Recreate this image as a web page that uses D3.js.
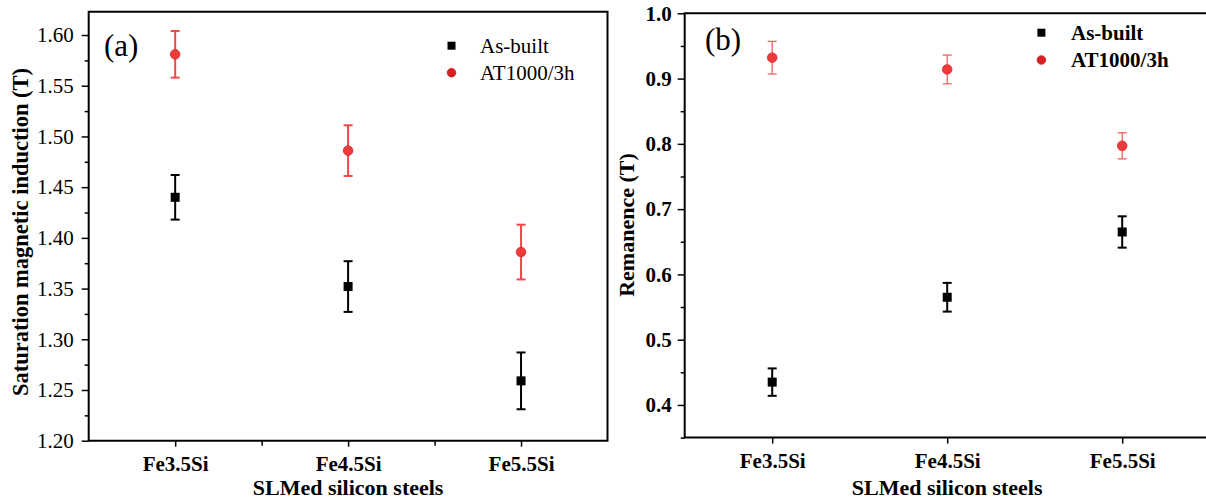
<!DOCTYPE html>
<html>
<head>
<meta charset="utf-8">
<script src="https://cdn.jsdelivr.net/npm/d3@7/dist/d3.min.js"></script>
<style>
  html, body { margin: 0; padding: 0; background: #fff; }
  svg { display: block; }
  text { font-family: "Liberation Serif", "Times New Roman", serif; fill: #000; }
</style>
</head>
<body>
<svg id="chart" width="1206" height="504"></svg>
<script>
// ---------------- data ----------------
const categories = ["Fe3.5Si", "Fe4.5Si", "Fe5.5Si"];
const seriesNames = ["As-built", "AT1000/3h"];

const satAsBuilt       = [1.440, 1.352, 1.259];
const satAsBuiltErr    = [0.022, 0.025, 0.028];
const satAnnealed      = [1.581, 1.486, 1.386];
const satAnnealedErr   = [0.023, 0.025, 0.027];

const remAsBuilt       = [0.435, 0.565, 0.665];
const remAsBuiltErr    = [0.021, 0.022, 0.024];
const remAnnealed      = [0.932, 0.914, 0.797];
const remAnnealedErr   = [0.025, 0.022, 0.020];

const satTicks = [1.20, 1.25, 1.30, 1.35, 1.40, 1.45, 1.50, 1.55, 1.60];
const satMinor = [1.225, 1.275, 1.325, 1.375, 1.425, 1.475, 1.525, 1.575, 1.625];
const remTicks = [0.4, 0.5, 0.6, 0.7, 0.8, 0.9, 1.0];
const remMinor = [0.35, 0.45, 0.55, 0.65, 0.75, 0.85, 0.95];

// ---------------- drawing ----------------
const svg = d3.select("#chart");
const RED = "#ee3a3a";

function drawPanel(o) {
  const g = svg.append("g");
  const x = d3.scaleLinear().domain(o.xDomain).range([o.left, o.right]);
  const y = d3.scaleLinear().domain(o.yDomain).range([o.bottom, o.top]);
  const xPos = i => x(i + 1);

  // y minor ticks
  g.append("g").attr("transform", `translate(${o.left},0)`)
    .call(d3.axisLeft(y).tickValues(o.yMinor.filter(v => v >= o.yDomain[0] && v <= o.yDomain[1] + 1e-9))
      .tickSize(4).tickFormat(""))
    .call(s => s.select(".domain").remove())
    .selectAll("line").attr("stroke", "#000").attr("stroke-width", 1.5);
  // y major ticks
  const ya = g.append("g").attr("transform", `translate(${o.left},0)`)
    .call(d3.axisLeft(y).tickValues(o.yTicks).tickSize(7).tickPadding(o.yPad).tickFormat(d3.format(o.yFmt)))
    .call(s => s.select(".domain").remove());
  ya.selectAll("line").attr("stroke", "#000").attr("stroke-width", 1.5);
  ya.selectAll("text").attr("font-size", 21).attr("font-weight", o.bold ? "bold" : "normal")
    .style("font-family", '"Liberation Serif", serif').attr("fill", "#000");

  // x minor ticks
  if (o.xMinor.length) {
    g.append("g").attr("transform", `translate(0,${o.bottom})`)
      .call(d3.axisBottom(x).tickValues(o.xMinor).tickSize(5).tickFormat(""))
      .call(s => s.select(".domain").remove())
      .selectAll("line").attr("stroke", "#000").attr("stroke-width", 1.5);
  }
  // x major ticks
  const xa = g.append("g").attr("transform", `translate(0,${o.bottom})`)
    .call(d3.axisBottom(x).tickValues(categories.map((c, i) => i + 1)).tickSize(6).tickPadding(9)
      .tickFormat((d) => categories[d - 1]))
    .call(s => s.select(".domain").remove());
  xa.selectAll("line").attr("stroke", "#000").attr("stroke-width", 1.5);
  xa.selectAll("text").attr("font-size", 21).attr("font-weight", "bold")
    .style("font-family", '"Liberation Serif", serif').attr("fill", "#000");

  // frame
  g.append("path")
    .attr("d", `M${o.left},${o.bottom}H${o.frameRight}V${o.top}H${o.left}Z`)
    .attr("fill", "none").attr("stroke", "#000").attr("stroke-width", 2);

  // axis titles
  g.append("text").attr("x", xPos(1)).attr("y", 495).attr("text-anchor", "middle")
    .attr("font-size", 22).attr("font-weight", "bold").text(o.xTitle);
  g.append("text")
    .attr("transform", `translate(${o.yTitleX},${o.yTitleY}) rotate(-90)`)
    .attr("text-anchor", "middle").attr("font-size", o.yTitleSize).attr("font-weight", "bold").text(o.yTitle);

  // panel label
  g.append("text").attr("x", o.labelX).attr("y", o.labelY).attr("font-size", 31).text(o.label);

  // series
  const series = [
    { vals: o.s1, err: o.e1, color: "#000", ew: 2, shape: "square" },
    { vals: o.s2, err: o.e2, color: RED, ew: o.redErrW, errColor: o.redErrColor, shape: "circle" }
  ];
  series.forEach(s => {
    const sg = g.append("g");
    s.vals.forEach((v, i) => {
      const cx = xPos(i), lo = y(v - s.err[i]), hi = y(v + s.err[i]);
      const ec = s.errColor || s.color;
      sg.append("line").attr("x1", cx).attr("x2", cx).attr("y1", lo).attr("y2", hi)
        .attr("stroke", ec).attr("stroke-width", s.ew);
      [lo, hi].forEach(yy => sg.append("line").attr("x1", cx - 4.5).attr("x2", cx + 4.5)
        .attr("y1", yy).attr("y2", yy).attr("stroke", ec).attr("stroke-width", s.ew));
      if (s.shape === "square") {
        sg.append("rect").attr("x", cx - 4.5).attr("y", y(v) - 4.5).attr("width", 9).attr("height", 9)
          .attr("fill", "#000");
      } else {
        sg.append("circle").attr("cx", cx).attr("cy", y(v)).attr("r", 4.8)
          .attr("fill", RED).attr("stroke", "#d42a2a").attr("stroke-width", 0.8);
      }
    });
  });

  // legend
  const lg = g.append("g");
  lg.append("rect").attr("x", o.legX - 4).attr("y", o.legY1 - 4).attr("width", 8).attr("height", 8).attr("fill", "#000");
  lg.append("circle").attr("cx", o.legX).attr("cy", o.legY2).attr("r", 4.3).attr("fill", "#d92020")
    .attr("stroke", "#c01818").attr("stroke-width", 0.8);
  lg.append("text").attr("x", o.legTextX).attr("y", o.legY1 + 7).attr("font-size", 21)
    .attr("font-weight", o.bold ? "bold" : "normal").text(seriesNames[0]);
  lg.append("text").attr("x", o.legTextX).attr("y", o.legY2 + 7).attr("font-size", 21)
    .attr("font-weight", o.bold ? "bold" : "normal").text(seriesNames[1]);
}

drawPanel({
  left: 88.7, right: 607.5, frameRight: 607.5, top: 11.7, bottom: 440.7,
  xDomain: [0.5, 3.5], yDomain: [1.20, 1.623],
  yTicks: satTicks, yMinor: satMinor, yFmt: ".2f", yPad: 8, bold: false,
  xMinor: [1.5, 2.5],
  xTitle: "SLMed silicon steels", yTitle: "Saturation magnetic induction (T)",
  yTitleX: 28, yTitleY: 232, yTitleSize: 22.5,
  label: "(a)", labelX: 104, labelY: 56,
  s1: satAsBuilt, e1: satAsBuiltErr, s2: satAnnealed, e2: satAnnealedErr,
  redErrW: 2, redErrColor: "#f04848",
  legX: 451.5, legY1: 45.7, legY2: 72.7, legTextX: 480
});

drawPanel({
  left: 684.7, right: 684.7 + 3.5 * 175, frameRight: 1300, top: 13.3, bottom: 437.6,
  xDomain: [0.5, 4.0], yDomain: [0.35, 1.0],
  yTicks: remTicks, yMinor: remMinor, yFmt: ".1f", yPad: 6, bold: true,
  xMinor: [],
  xTitle: "SLMed silicon steels", yTitle: "Remanence (T)",
  yTitleX: 634, yTitleY: 225, yTitleSize: 22,
  label: "(b)", labelX: 705, labelY: 50,
  s1: remAsBuilt, e1: remAsBuiltErr, s2: remAnnealed, e2: remAnnealedErr,
  redErrW: 1.3, redErrColor: "#f06060",
  legX: 1041.4, legY1: 32.7, legY2: 60, legTextX: 1071
});
</script>
</body>
</html>
